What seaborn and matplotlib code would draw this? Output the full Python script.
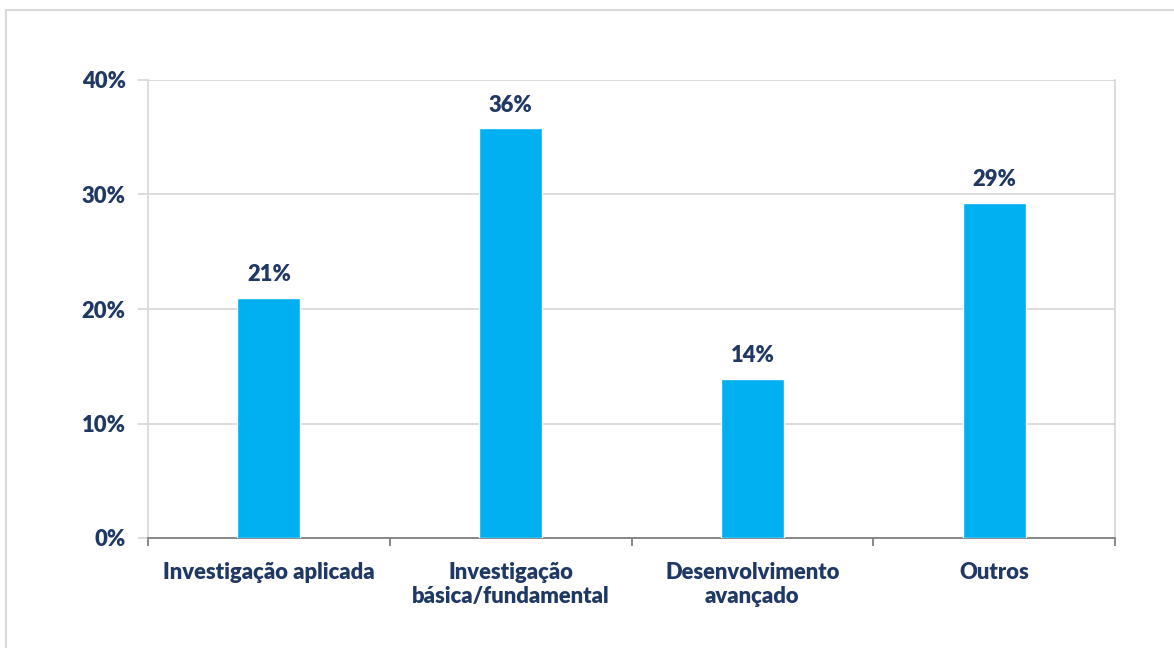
import matplotlib
matplotlib.use("Agg")
import matplotlib.pyplot as plt
import seaborn as sns
import pandas as pd
from matplotlib.patches import Rectangle
from matplotlib.ticker import FuncFormatter

categories = ["Investigação aplicada", "Investigação\nbásica/fundamental",
              "Desenvolvimento\navançado", "Outros"]
values = [21.0, 35.8, 13.9, 29.3]
value_labels = ["21%", "36%", "14%", "29%"]
y_ticks = [0, 10, 20, 30, 40]

sns.set_theme(style="white")
plt.rcParams['font.family'] = ['Lato', 'DejaVu Sans']

navy = "#1F3864"
bar_color = "#00B0F0"
FS = 15.8
FW = "heavy"

df = pd.DataFrame({"cat": categories, "val": values})

fig = plt.figure(figsize=(11.74, 6.48), dpi=100)
ax = fig.add_axes([148/1174, 1-538/648, (1115-148)/1174, (538-80)/648])

sns.barplot(data=df, x="cat", y="val", color=bar_color, width=0.26,
            saturation=1, ax=ax, zorder=3)

ax.set_ylim(0, 40)
ax.set_xlim(-0.5, len(categories)-0.5)
ax.set_yticks(y_ticks)
ax.yaxis.set_major_formatter(FuncFormatter(lambda v, p: f"{v:.0f}%"))
ax.grid(axis="y", color="#D9D9D9", linewidth=1.3, zorder=0)
ax.set_axisbelow(True)

ax.set_xlabel("")
ax.set_ylabel("")

ax.spines["top"].set_visible(False)
ax.spines["right"].set_color("#D9D9D9")
ax.spines["right"].set_linewidth(1.3)
ax.spines["left"].set_color("#D9D9D9")
ax.spines["left"].set_linewidth(1.3)
ax.spines["bottom"].set_color("#7F7F7F")
ax.spines["bottom"].set_linewidth(1.3)

ax.set_xticks([i for i in range(len(categories))])
ax.set_xticklabels(categories)
ax.tick_params(axis="x", length=0, pad=17, labelsize=FS, labelcolor=navy)
for lab in ax.get_xticklabels():
    lab.set_fontweight(FW)
    lab.set_linespacing(1.22)
    lab.set_verticalalignment("top")
ax.set_xticks([i - 0.5 for i in range(len(categories)+1)], minor=True)
ax.tick_params(axis="x", which="minor", length=6, width=1.3, color="#7F7F7F", bottom=True)
ax.tick_params(axis="y", length=7, width=1.3, color="#D9D9D9", left=True, pad=9,
               labelsize=FS, labelcolor=navy)
for lab in ax.get_yticklabels():
    lab.set_fontweight(FW)

for i, (v, t) in enumerate(zip(values, value_labels)):
    ax.annotate(t, xy=(i, v), xytext=(0, 9), textcoords="offset points",
                ha="center", va="bottom", fontsize=FS, fontweight=FW, color=navy)

fig.patches.append(Rectangle((6/1174, -0.02), 1.1, 1 - 10/648 + 0.02,
                             transform=fig.transFigure, fill=False,
                             edgecolor="#D9D9D9", linewidth=1.5))

fig.savefig("out.png", dpi=100)
